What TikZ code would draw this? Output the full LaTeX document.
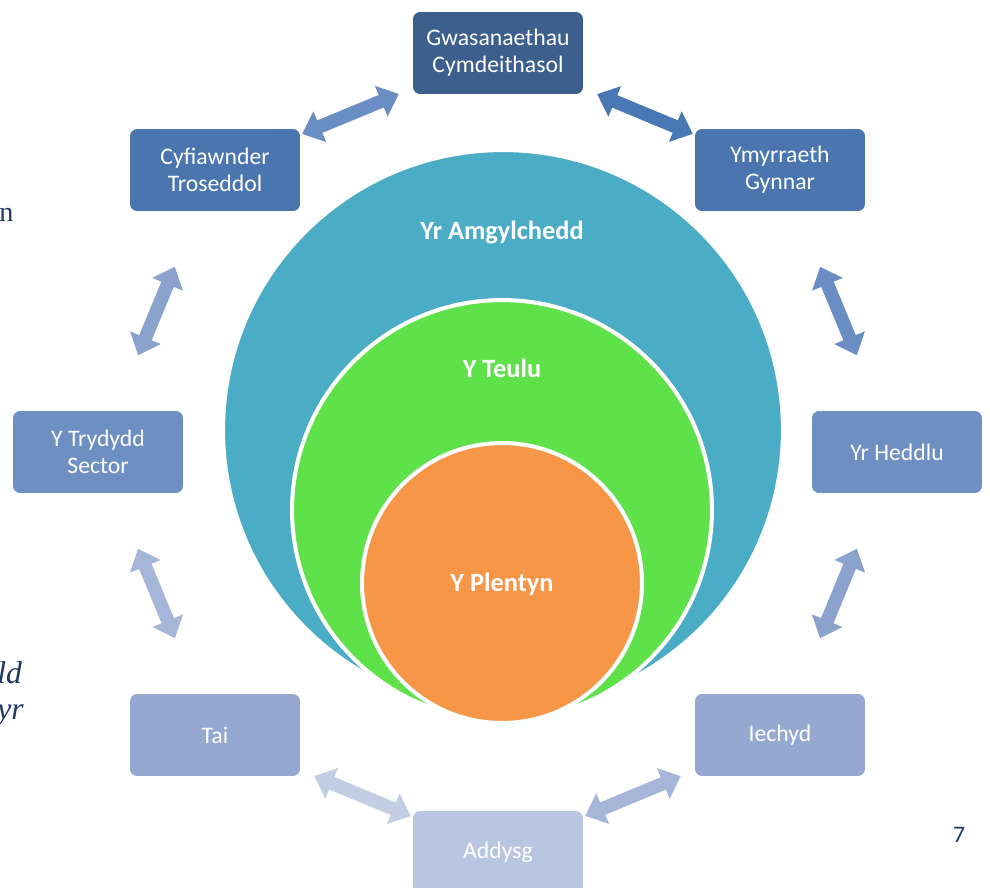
\documentclass[tikz,border=0pt]{standalone}
\usepackage{fontspec}
\setmainfont{Carlito}
\newfontfamily\pageserif{Liberation Serif}
\usetikzlibrary{arrows.meta,positioning}
\definecolor{gwasblue}{HTML}{3D5F8E}
\definecolor{midblue}{HTML}{4A75AE}
\definecolor{lightblue}{HTML}{6E8FC2}
\definecolor{paleblue}{HTML}{95A9D0}
\definecolor{faintblue}{HTML}{B9C6E1}
\definecolor{envteal}{HTML}{4BACC6}
\definecolor{famgreen}{HTML}{5FE14A}
\definecolor{childorange}{HTML}{F79646}
\definecolor{pagenavy}{HTML}{1F3864}
\definecolor{arrA}{HTML}{6A8DC3}
\definecolor{arrB}{HTML}{4A78B5}
\definecolor{arrC}{HTML}{8BA2CC}
\definecolor{arrD}{HTML}{A6B6D8}
\definecolor{arrE}{HTML}{C3CEE5}
\tikzstyle{box}=[rounded corners=4pt, minimum width=3.4cm, minimum height=1.64cm, align=center, text=white, inner sep=0pt, font={\fontsize{13.5}{15.5}\selectfont}]
\tikzstyle{ring}=[circle, draw=white, line width=2.3pt, inner sep=0pt]
\tikzstyle{lbl}=[text=white, inner sep=0pt, font={\bfseries\fontsize{15}{18}\selectfont}]
\tikzstyle{dbl}=[line width=0.27cm, {Triangle[width=0.64cm,length=0.38cm]}-{Triangle[width=0.64cm,length=0.38cm]}]
\tikzstyle{far}=[shorten <=1.2cm, shorten >=1.2cm]
\tikzstyle{stray}=[text=pagenavy, inner sep=0pt]

\begin{document}
\begin{tikzpicture}[x=0.02cm, y=-0.02cm]
        \useasboundingbox (0,0) rectangle (990,888);
        % circles
        \node[ring, fill=envteal, minimum size=11.2cm] (amg) at (503,430) {};
        \node[ring, fill=famgreen, minimum size=8.4cm] (teulu) at (502,510) {};
        \node[ring, fill=childorange, minimum size=5.6cm] (plentyn) at (502,583) {};
        \node[lbl] (amgl) at (502,232) {Yr Amgylchedd};
        \node[lbl] (teulul) at (502,368) {Y Teulu};
        \node[lbl] (plentynl) at (502,584) {Y Plentyn};
        % boxes
        \node[box, fill=gwasblue] (gwas) at (498,53) {Gwasanaethau\\Cymdeithasol};
        \node[box, fill=midblue] (cyf) at (215,170) {Cyfiawnder\\Troseddol};
        \node[box, fill=midblue] (ymy) at (780,170) {Ymyrraeth\\Gynnar};
        \node[box, fill=lightblue] (try) at (98,452) {Y Trydydd\\Sector};
        \node[box, fill=lightblue] (hed) at (897,452) {Yr Heddlu};
        \node[box, fill=paleblue] (tai) at (215,735) {Tai};
        \node[box, fill=paleblue] (iech) at (780,735) {Iechyd};
        \node[box, fill=faintblue] (addysg) at (498,852) {Addysg};
        % arrows
        \draw (cyf) edge[dbl, draw=arrA, shorten <=0.04cm, shorten >=0.3cm] (gwas);
        \draw (gwas) edge[dbl, draw=arrB, shorten <=0.3cm, shorten >=0.04cm] (ymy);
        \draw (ymy) edge[dbl, far, draw=arrA] (hed);
        \draw (cyf) edge[dbl, far, draw=arrC] (try);
        \draw (try) edge[dbl, far, draw=arrD] (tai);
        \draw (hed) edge[dbl, far, draw=arrC] (iech);
        \draw (tai) edge[dbl, draw=arrE, shorten <=0.3cm, shorten >=0.04cm] (addysg);
        \draw (iech) edge[dbl, draw=arrD, shorten <=0.3cm, shorten >=0.04cm] (addysg);
        % page leftovers
        \node[stray, anchor=base west] (frag1) at (-1,222) {\pageserif\fontsize{16}{18}\selectfont n};
        \node[stray, anchor=base west] (frag2) at (-3,683) {\pageserif\itshape\fontsize{18}{20}\selectfont ld};
        \node[stray, anchor=base west] (frag3) at (-3,719) {\pageserif\itshape\fontsize{18}{20}\selectfont yr};
        \node[stray, anchor=base] (pagenum) at (959,842) {\fontsize{13.5}{15}\selectfont 7};
\end{tikzpicture}
\end{document}
